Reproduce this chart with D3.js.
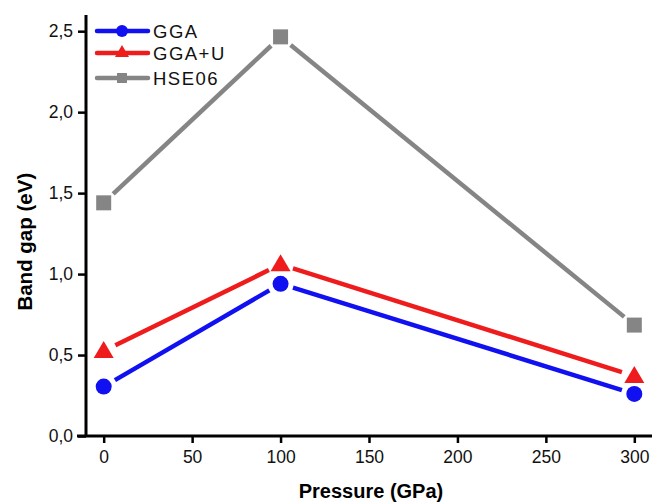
<!DOCTYPE html>
<html>
<head>
<meta charset="utf-8">
<script src="https://cdn.jsdelivr.net/npm/d3@7"></script>
<style>
  body { margin: 0; background: #fff; }
  text { font-family: "Liberation Sans", Arial, sans-serif; }
</style>
</head>
<body>
<div id="chart"></div>
<script>
const pressure = [0, 100, 300];
const gga = [0.305, 0.94, 0.26];
const ggaU = [0.525, 1.06, 0.37];
const hse06 = [1.44, 2.465, 0.685];
const seriesNames = ["GGA", "GGA+U", "HSE06"];
const xTicks = [0, 50, 100, 150, 200, 250, 300];
const yTicks = [0, 0.5, 1.0, 1.5, 2.0, 2.5];

const width = 652;
const height = 503;
const marginTop = 15;
const marginLeft = 86;
const marginBottom = 67;
const marginRight = 0;

const x = d3.scaleLinear()
    .domain([-10, 310])
    .range([marginLeft, width - marginRight]);
const y = d3.scaleLinear()
    .domain([0, 2.6])
    .range([height - marginBottom, marginTop]);

const svg = d3.select("#chart")
    .append("svg")
        .attr("width", width)
        .attr("height", height);

const series = [
    {name: seriesNames[0], values: gga, color: "#1010f0", shape: "circle"},
    {name: seriesNames[1], values: ggaU, color: "#ee1c1c", shape: "triangle"},
    {name: seriesNames[2], values: hse06, color: "#858585", shape: "square"}
];

function marker(g, shape, color) {
    if (shape === "circle") {
        g.append("circle").attr("r", 8).attr("fill", color);
    } else if (shape === "triangle") {
        g.append("path").attr("d", "M0,-10L10,7L-10,7Z").attr("fill", color);
    } else {
        g.append("rect").attr("x", -7.5).attr("y", -7.5)
            .attr("width", 15).attr("height", 15).attr("fill", color);
    }
}

// series lines, with gaps around markers
const gap = 13;
series.forEach(s => {
    const pts = pressure.map((p, i) => [x(p), y(s.values[i])]);
    d3.pairs(pts).forEach(([a, b]) => {
        const dx = b[0] - a[0], dy = b[1] - a[1];
        const len = Math.hypot(dx, dy);
        const ux = dx / len, uy = dy / len;
        svg.append("line")
            .attr("x1", a[0] + ux * gap).attr("y1", a[1] + uy * gap)
            .attr("x2", b[0] - ux * gap).attr("y2", b[1] - uy * gap)
            .attr("stroke", s.color)
            .attr("stroke-width", 4.5);
    });
    pts.forEach(p => {
        marker(svg.append("g").attr("transform", `translate(${p[0]},${p[1]})`), s.shape, s.color);
    });
});

// x axis
const xAxis = svg.append("g")
    .attr("transform", `translate(0,${y(0)})`);
xAxis.call(d3.axisBottom(x)
    .tickValues(d3.range(25, 310, 50))
    .tickSize(5)
    .tickFormat(""));
xAxis.call(d3.axisBottom(x)
    .tickValues(xTicks)
    .tickSize(7)
    .tickPadding(8));
xAxis.selectAll(".domain").remove();
xAxis.append("line")
    .attr("x1", x(-10) - 9).attr("x2", width)
    .attr("stroke", "#000").attr("stroke-width", 3);
xAxis.selectAll(".tick line").attr("stroke-width", 2.5);
xAxis.selectAll(".tick text")
    .attr("font-size", 17.5).attr("fill", "#111");

// y axis
const yAxis = svg.append("g")
    .attr("transform", `translate(${x(-10)},0)`);
yAxis.call(d3.axisLeft(y)
    .tickValues(d3.range(0.25, 2.6, 0.5))
    .tickSize(5)
    .tickFormat(""));
yAxis.call(d3.axisLeft(y)
    .tickValues(yTicks)
    .tickSize(8)
    .tickPadding(5)
    .tickFormat(d => d3.format(".1f")(d).replace(".", ",")));
yAxis.selectAll(".domain").remove();
yAxis.append("line")
    .attr("y1", y(0) + 1).attr("y2", marginTop)
    .attr("stroke", "#000").attr("stroke-width", 3);
yAxis.selectAll(".tick line").attr("stroke-width", 2.5);
yAxis.selectAll(".tick text")
    .attr("font-size", 17.5).attr("fill", "#111");

// axis titles
svg.append("text")
    .attr("x", (x(-10) + width) / 2 + 2)
    .attr("y", 498)
    .attr("text-anchor", "middle")
    .attr("font-size", 20)
    .attr("font-weight", "bold")
    .text("Pressure (GPa)");
svg.append("text")
    .attr("transform", `translate(32,${y(1.2)}) rotate(-90)`)
    .attr("text-anchor", "middle")
    .attr("font-size", 20.5)
    .attr("font-weight", "bold")
    .text("Band gap (eV)");

// legend
const legendY = [31, 53, 78];
series.forEach((s, i) => {
    const g = svg.append("g").attr("transform", `translate(0,${legendY[i]})`);
    g.append("line")
        .attr("x1", 97).attr("x2", 148)
        .attr("stroke", s.color).attr("stroke-width", 4.5)
        .attr("stroke-linecap", "round");
    const m = g.append("g").attr("transform", "translate(122,0)");
    if (s.shape === "circle") m.append("circle").attr("r", 6).attr("fill", s.color);
    else if (s.shape === "triangle") m.append("path").attr("d", "M0,-8L7,4L-7,4Z").attr("fill", s.color);
    else m.append("rect").attr("x", -5).attr("y", -5).attr("width", 10).attr("height", 10).attr("fill", s.color);
    g.append("text")
        .attr("x", 153).attr("y", 7)
        .attr("font-size", 18.5)
        .attr("letter-spacing", 1.5)
        .attr("fill", "#111")
        .text(s.name);
});
</script>
</body>
</html>
